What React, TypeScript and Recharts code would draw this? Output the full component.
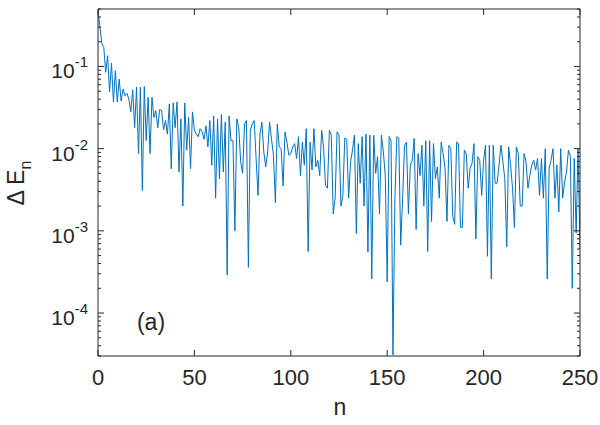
import { LineChart, Line, XAxis, YAxis } from 'recharts';

// ΔE_n for n = 0 … 250
const deltaE = [
  0.48, 0.3, 0.19, 0.17, 0.085, 0.135, 0.049, 0.11, 0.037, 0.089,
  0.037, 0.07, 0.038, 0.053, 0.044, 0.047, 0.04, 0.028, 0.052, 0.018,
  0.056, 0.0087, 0.056, 0.0031, 0.057, 0.0126, 0.042, 0.0087, 0.042, 0.024,
  0.029, 0.018, 0.03, 0.029, 0.017, 0.022, 0.015, 0.035, 0.0057, 0.036,
  0.018, 0.037, 0.0052, 0.023, 0.002, 0.036, 0.0096, 0.024, 0.0057, 0.028,
  0.017, 0.015, 0.014, 0.0175, 0.016, 0.013, 0.019, 0.0105, 0.022, 0.0063,
  0.025, 0.0025, 0.023, 0.0043, 0.026, 0.0052, 0.021, 0.00029, 0.025, 0.0125,
  0.0125, 0.001, 0.023, 0.018, 0.0069, 0.005, 0.02, 0.022, 0.00036, 0.0167,
  0.02, 0.022, 0.0076, 0.0027, 0.015, 0.021, 0.0091, 0.006, 0.0091, 0.021,
  0.013, 0.0083, 0.0022, 0.02, 0.0105, 0.01, 0.0035, 0.016, 0.012, 0.0083,
  0.0087, 0.0105, 0.0115, 0.0076, 0.014, 0.0047, 0.012, 0.0063, 0.0175, 0.00056,
  0.012, 0.0055, 0.0175, 0.006, 0.0072, 0.0047, 0.0167, 0.0105, 0.0036, 0.0033,
  0.0167, 0.0146, 0.0016, 0.0025, 0.016, 0.0146, 0.002, 0.0027, 0.0135, 0.013,
  0.0025, 0.0069, 0.0096, 0.0146, 0.00093, 0.0115, 0.0038, 0.014, 0.002, 0.015,
  0.00055, 0.0146, 0.00026, 0.0146, 0.005, 0.008, 0.0016, 0.0146, 0.0091, 0.0047,
  0.00024, 0.014, 0.0125, 0.000031, 0.0025, 0.014, 0.0135, 0.00067, 0.0025, 0.011,
  0.012, 0.0016, 0.0063, 0.0072, 0.0133, 0.00104, 0.0087, 0.0047, 0.011, 0.002,
  0.0125, 0.00056, 0.0125, 0.0013, 0.0115, 0.0043, 0.006, 0.0025, 0.012, 0.0087,
  0.0058, 0.0013, 0.011, 0.01, 0.0015, 0.0012, 0.012, 0.0115, 0.0011, 0.0011,
  0.0096, 0.0087, 0.0033, 0.0058, 0.0066, 0.0115, 0.0008, 0.008, 0.0072, 0.0027,
  0.0072, 0.011, 0.00049, 0.011, 0.00026, 0.011, 0.0038, 0.0038, 0.0063, 0.011,
  0.0069, 0.0043, 0.00064, 0.0105, 0.0063, 0.0033, 0.0011, 0.0105, 0.0087, 0.002,
  0.002, 0.0087, 0.0069, 0.0033, 0.0047, 0.0063, 0.0072, 0.0055, 0.0076, 0.0027,
  0.0076, 0.0025, 0.01, 0.00026, 0.0058, 0.0072, 0.01, 0.0025, 0.0063, 0.0017,
  0.01, 0.0025, 0.0039, 0.0052, 0.0096, 0.008, 0.0002, 0.0076, 0.00094, 0.01,
  0.0006,
];

const xTicks = [0, 50, 100, 150, 200, 250];
const yMajorTicks = [1e-4, 1e-3, 1e-2, 1e-1];
const yMinorTicks = [
  3e-5, 4e-5, 5e-5, 6e-5, 7e-5, 8e-5, 9e-5,
  2e-4, 3e-4, 4e-4, 5e-4, 6e-4, 7e-4, 8e-4, 9e-4,
  2e-3, 3e-3, 4e-3, 5e-3, 6e-3, 7e-3, 8e-3, 9e-3,
  2e-2, 3e-2, 4e-2, 5e-2, 6e-2, 7e-2, 8e-2, 9e-2,
  2e-1, 3e-1, 4e-1, 5e-1,
];
const yDomain: [number, number] = [3e-5, 0.5];

const chartData = deltaE.map((v, n) => ({ n, v }));
const yTicks = [...yMajorTicks, ...yMinorTicks].sort((a, b) => a - b);

const FONT = '"Liberation Sans", Arial, Helvetica, sans-serif';
const AXIS = '#262626';
const LINE = '#0072BD';

const isMajor = (v: number) => yMajorTicks.some(m => Math.abs(m - v) / m < 1e-6);

const LeftTick = ({ x, y, payload }: any) => {
  const v = payload.value;
  const major = isMajor(v);
  const axisX = x + 10;
  return (
    <g>
      <line x1={axisX} x2={axisX + (major ? 6 : 3)} y1={y} y2={y} stroke={AXIS} strokeWidth={1} />
      {major && (
        <text x={x} y={y + 12} textAnchor="end" fontSize={21} fill={AXIS} fontFamily={FONT}>
          10
          <tspan dy={-11} fontSize={15}>{Math.round(Math.log10(v))}</tspan>
        </text>
      )}
    </g>
  );
};

const RightTick = ({ x, y, payload }: any) => {
  const major = isMajor(payload.value);
  return <line x1={x - (major ? 6 : 3)} x2={x} y1={y} y2={y} stroke={AXIS} strokeWidth={1} />;
};

const BottomTick = ({ x, y, payload }: any) => (
  <g>
    <line x1={x} x2={x} y1={y} y2={y - 6} stroke={AXIS} strokeWidth={1} />
    <text x={x} y={y + 29} textAnchor="middle" fontSize={22} fill={AXIS} fontFamily={FONT}>
      {payload.value}
    </text>
  </g>
);

const TopTick = ({ x, y }: any) => (
  <line x1={x} x2={x} y1={y} y2={y + 6} stroke={AXIS} strokeWidth={1} />
);

export default function App() {
  return (
    <div style={{ position: 'absolute', left: 0, top: 0, width: 600, height: 425, background: '#fff' }}>
      <LineChart
        width={600}
        height={425}
        data={chartData}
        margin={{ top: 8, right: 19, bottom: 9, left: 0 }}
      >
        <XAxis
          xAxisId="bottom"
          dataKey="n"
          type="number"
          domain={[0, 250]}
          ticks={xTicks}
          interval={0}
          height={60}
          tickSize={0}
          tickMargin={0}
          tickLine={false}
          axisLine={{ stroke: AXIS, strokeWidth: 1 }}
          tick={<BottomTick />}
          allowDataOverflow
        />
        <XAxis
          xAxisId="top"
          orientation="top"
          dataKey="n"
          type="number"
          domain={[0, 250]}
          ticks={xTicks}
          interval={0}
          height={1}
          tickSize={0}
          tickMargin={0}
          tickLine={false}
          axisLine={{ stroke: AXIS, strokeWidth: 1 }}
          tick={<TopTick />}
          allowDataOverflow
        />
        <YAxis
          yAxisId="left"
          dataKey="v"
          scale="log"
          type="number"
          domain={yDomain}
          ticks={yTicks}
          interval={0}
          width={98}
          tickSize={0}
          tickMargin={10}
          tickLine={false}
          axisLine={{ stroke: AXIS, strokeWidth: 1 }}
          tick={<LeftTick />}
          allowDataOverflow
        />
        <YAxis
          yAxisId="right"
          orientation="right"
          dataKey="v"
          scale="log"
          type="number"
          domain={yDomain}
          ticks={yTicks}
          interval={0}
          width={1}
          tickSize={0}
          tickMargin={0}
          tickLine={false}
          axisLine={{ stroke: AXIS, strokeWidth: 1 }}
          tick={<RightTick />}
          allowDataOverflow
        />
        <Line
          xAxisId="bottom"
          yAxisId="left"
          type="linear"
          dataKey="v"
          stroke={LINE}
          strokeWidth={1}
          dot={false}
          activeDot={false}
          isAnimationActive={false}
        />
        <text x={24} y={183} transform="rotate(-90 24 183)" textAnchor="middle" fontSize={23} fill={AXIS} fontFamily={FONT}>
          Δ E<tspan dy={7} fontSize={16}>n</tspan>
        </text>
        <text x={340} y={415} textAnchor="middle" fontSize={23} fill={AXIS} fontFamily={FONT}>
          n
        </text>
        <text x={151} y={330} textAnchor="middle" fontSize={23} fill={AXIS} fontFamily={FONT}>
          (a)
        </text>
      </LineChart>
    </div>
  );
}
